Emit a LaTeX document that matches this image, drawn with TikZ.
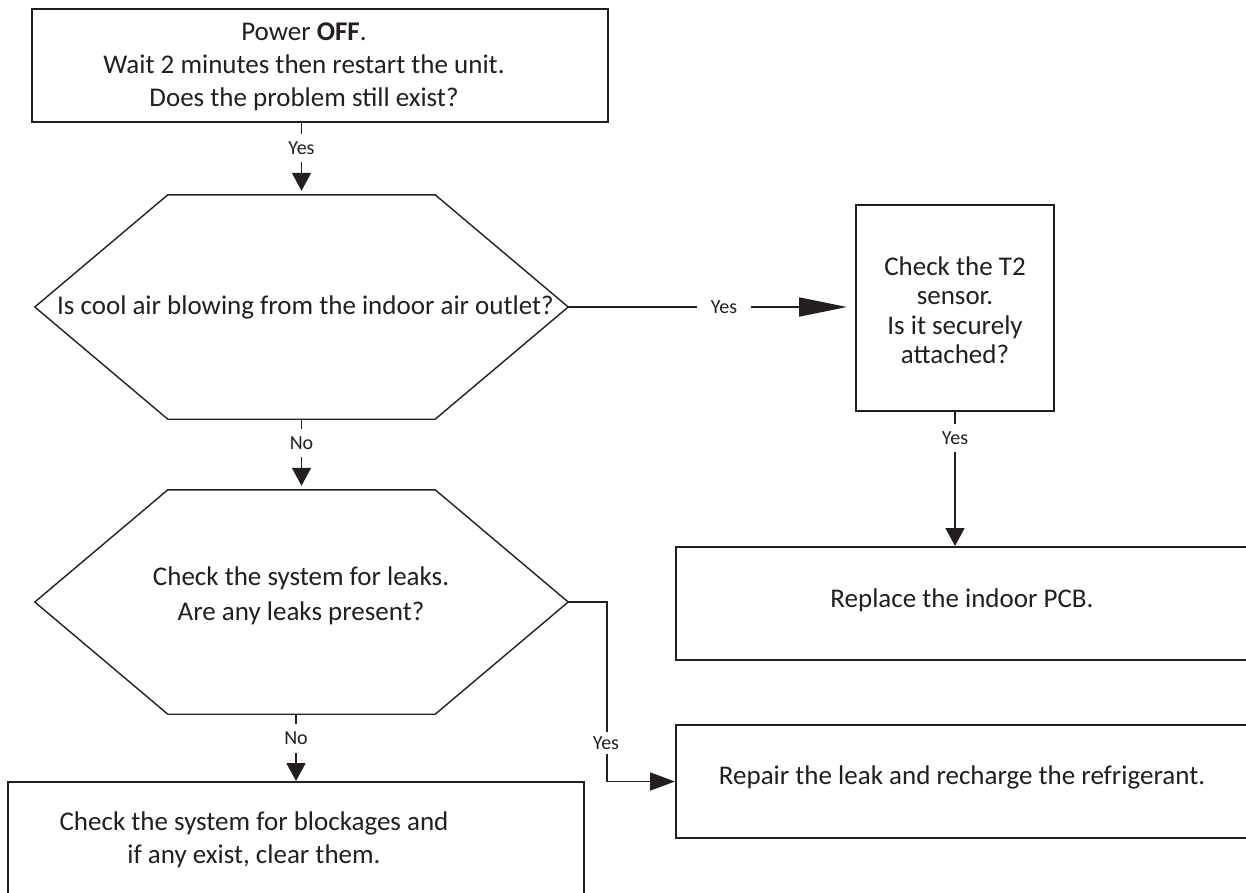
\documentclass[tikz,border=0pt]{standalone}
\usepackage{fontspec}
\setmainfont{Carlito}
\usetikzlibrary{arrows.meta}
\definecolor{ink}{HTML}{231F20}
\begin{document}
\begin{tikzpicture}[x=1pt,y=-1pt,
  box/.style={draw=ink, line width=2pt, inner sep=0pt},
  blank/.style={inner sep=0pt, minimum width=533pt, minimum height=224pt},
  hexline/.style={draw=ink, line width=1.4pt, line join=miter},
  txt/.style={text=ink, align=center, inner sep=0pt, font=\fontsize{27}{33}\selectfont},
  lbl/.style={fill=white, text=ink, inner xsep=2pt, inner ysep=8pt, font=\fontsize{20}{24}\selectfont},
  conn/.style={draw=ink, line width=1.8pt},
  tipshort/.style={-{Triangle[length=18pt,width=19pt]}},
  tiplong/.style={-{Triangle[length=48pt,width=19pt]}},
  tipmid/.style={-{Triangle[length=25pt,width=18pt]}}]
\clip (0,0) rectangle (1246,892);
\fill[white] (0,0) rectangle (1246,892);

% boxes
\node[box, minimum width=576pt, minimum height=113pt] (top) at (320,65.5) {};
\node[txt] (toptxt) at (304,67) {Power \textbf{OFF}.\\Wait 2 minutes then restart the unit.\\Does the problem still exist?};

\node[blank] (h1) at (301.5,307) {};
\draw[hexline] (h1.west) -- ([xshift=133pt]h1.north west) -- ([xshift=-133pt]h1.north east) -- (h1.east) -- ([xshift=-133pt]h1.south east) -- ([xshift=133pt]h1.south west) -- cycle;
\node[txt] (h1txt) at (305.5,307) {Is cool air blowing from the indoor air outlet?};

\node[blank] (h2) at (301.5,602) {};
\draw[hexline] (h2.west) -- ([xshift=133pt]h2.north west) -- ([xshift=-133pt]h2.north east) -- (h2.east) -- ([xshift=-133pt]h2.south east) -- ([xshift=133pt]h2.south west) -- cycle;
\node[txt, font=\fontsize{27}{35}\selectfont] (h2txt) at (301,596) {Check the system for leaks.\\Are any leaks present?};

\node[box, minimum width=198pt, minimum height=206pt] (t2) at (955,308) {};
\node[txt, font=\fontsize{27}{29.5}\selectfont] (t2txt) at (955,310) {Check the T2\\sensor.\\Is it securely\\attached?};

\node[box, minimum width=584pt, minimum height=113pt] (pcb) at (968,603.5) {};
\node[txt] (pcbtxt) at (962,600) {Replace the indoor PCB.};

\node[box, minimum width=584pt, minimum height=113pt] (rep) at (968,781.5) {};
\node[txt] (reptxt) at (962,777) {Repair the leak and recharge the refrigerant.};

\node[box, minimum width=576pt, minimum height=123pt] (bl) at (296,843.5) {};
\node[txt] (bltxt) at (254,840) {Check the system for blockages and\\if any exist, clear them.};

% connectors
\draw[conn, tipshort, shorten >=4pt] (top.south -| h1.north) -- (h1.north);
\draw[conn, tiplong, shorten >=8pt] (h1.east) -- (h1.east -| t2.west);
\draw[conn, tipshort] (t2.south) -- (t2.south |- pcb.north);
\draw[conn, tipshort, shorten >=4pt] (h1.south) -- (h2.north);
\coordinate (h2out) at ([xshift=-5.5pt]h2.south);
\draw[conn, tipshort] (h2out) -- (h2out |- bl.north);
\coordinate (h2bend) at ([xshift=39pt]h2.east);
\draw[conn, tipmid] (h2.east) -- (h2bend) |- (rep.west);

% labels
\node[lbl] (l1) at (301.5,148) {Yes};
\node[lbl, inner xsep=14pt] (l2) at (724,307) {Yes};
\node[lbl] (l3) at (955,438) {Yes};
\node[lbl] (l4) at (301.5,443) {No};
\node[lbl] (l5) at (296,738) {No};
\node[lbl, inner ysep=4.5pt] (l6) at (606,743) {Yes};
\end{tikzpicture}
\end{document}
